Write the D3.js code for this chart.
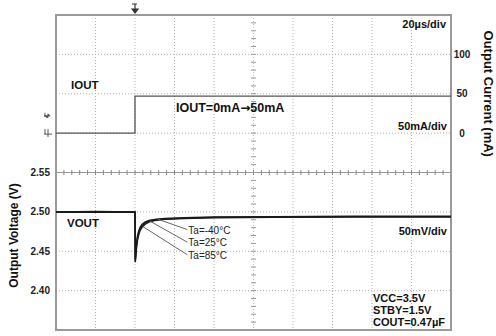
<!DOCTYPE html>
<html><head><meta charset="utf-8">
<script src="https://cdn.jsdelivr.net/npm/d3@7"></script>
<style>
body{margin:0;background:#fff;}
text{font-family:"Liberation Sans",Arial,sans-serif;}
</style></head>
<body><svg id="c" width="496" height="336"></svg>
<script>
// ---- data ----
const timeDomainUs = [-40, 160];           // 20 µs/div, 10 divisions
const voltDomain = [2.35, 2.75];           // 50 mV/div, 8 divisions
const currDomain = [-250, 150];            // 50 mA/div, 8 divisions
const voltTicks = [2.55, 2.50, 2.45, 2.40];
const currTicks = [100, 50, 0];

const ioutTime = [-40, 0, 0, 160];
const ioutMa   = [0, 0, 47, 47];

const voutTime   = [-40, -20, 0, 0.15, 0.4, 0.8, 1.2, 1.8, 2.5, 3.5, 5, 7, 10, 15, 25, 40, 70, 110, 160];
const voutTaM40  = [2.500, 2.5005, 2.500, 2.440, 2.449, 2.461, 2.469, 2.475, 2.480, 2.484, 2.487, 2.489, 2.4905, 2.4915, 2.4925, 2.4935, 2.494, 2.4945, 2.4945];
const voutTa25   = [2.500, 2.500, 2.500, 2.437, 2.446, 2.458, 2.466, 2.473, 2.478, 2.482, 2.486, 2.488, 2.490, 2.491, 2.492, 2.493, 2.4935, 2.494, 2.494];
const voutTa85   = [2.4995, 2.4995, 2.4995, 2.436, 2.444, 2.455, 2.463, 2.470, 2.476, 2.480, 2.484, 2.487, 2.489, 2.4905, 2.4915, 2.4925, 2.493, 2.4935, 2.4935];

const taLabels = ["Ta=-40°C", "Ta=25°C", "Ta=85°C"];
const leaderStartT = [11.5, 7.5, 4];
const leaderEndV = [2.4775, 2.4615, 2.4455];
const labelT = 26.5;

// ---- layout ----
const L = 56, R = 451, T = 15, B = 330;
const svg = d3.select("#c");
const x = d3.scaleLinear().domain(timeDomainUs).range([L, R]);
const yV = d3.scaleLinear().domain(voltDomain).range([B, T]);
const yI = d3.scaleLinear().domain(currDomain).range([B, T]);

// grid
const g = svg.append("g");
const xDivs = d3.range(timeDomainUs[0] + 20, timeDomainUs[1], 20);
const yDivs = d3.range(voltDomain[0] + 0.05, voltDomain[1] - 0.001, 0.05);
g.selectAll(".gx").data(xDivs).join("line")
  .attr("x1", d => x(d)).attr("x2", d => x(d)).attr("y1", T).attr("y2", B)
  .attr("stroke", "#b0b0b0").attr("stroke-width", 1).attr("stroke-dasharray", "1,2");
g.selectAll(".gy").data(yDivs).join("line")
  .attr("x1", L).attr("x2", R).attr("y1", d => yV(d)).attr("y2", d => yV(d))
  .attr("stroke", "#b0b0b0").attr("stroke-width", 1).attr("stroke-dasharray", "1,2");

// center axes with minor ticks
const cx = x(60), cy = yV(2.55);
g.append("line").attr("x1", L).attr("x2", R).attr("y1", cy).attr("y2", cy).attr("stroke", "#999").attr("stroke-width", 1);
g.append("line").attr("x1", cx).attr("x2", cx).attr("y1", T).attr("y2", B).attr("stroke", "#bbb").attr("stroke-width", 1).attr("stroke-dasharray", "1,2");
g.selectAll(".mtx").data(d3.range(timeDomainUs[0], timeDomainUs[1] + 0.01, 4)).join("line")
  .attr("x1", d => x(d)).attr("x2", d => x(d)).attr("y1", cy - 2.5).attr("y2", cy + 2.5)
  .attr("stroke", "#888").attr("stroke-width", 1);
g.selectAll(".mty").data(d3.range(voltDomain[0], voltDomain[1] + 0.001, 0.01)).join("line")
  .attr("x1", cx - 2.5).attr("x2", cx + 2.5).attr("y1", d => yV(d)).attr("y2", d => yV(d))
  .attr("stroke", "#999").attr("stroke-width", 1);

// frame
svg.append("rect").attr("x", L).attr("y", T).attr("width", R - L).attr("height", B - T)
  .attr("fill", "none").attr("stroke", "#9a9a9a").attr("stroke-width", 2);

// current trace
const lineI = d3.line().x((d, i) => x(ioutTime[i])).y(d => yI(d));
svg.append("path").datum(ioutMa).attr("d", lineI).attr("fill", "none").attr("stroke", "#555").attr("stroke-width", 1.3);

// voltage traces
const lineV = d3.line().x((d, i) => x(voutTime[i])).y(d => yV(d));
[voutTa85, voutTa25, voutTaM40].forEach(s => {
  svg.append("path").datum(s).attr("d", lineV).attr("fill", "none").attr("stroke", "#1a1a1a").attr("stroke-width", 1.4);
});

// leaders & Ta labels
taLabels.forEach((lab, i) => {
  const st = leaderStartT[i];
  const idx = d3.bisectLeft(voutTime, st);
  const t0 = voutTime[idx - 1], t1 = voutTime[idx];
  const s = [voutTaM40, voutTa25, voutTa85][i];
  const v = s[idx - 1] + (s[idx] - s[idx - 1]) * (st - t0) / (t1 - t0);
  svg.append("line").attr("x1", x(st)).attr("y1", yV(v)).attr("x2", x(labelT)).attr("y2", yV(leaderEndV[i]))
    .attr("stroke", "#666").attr("stroke-width", 1);
  svg.append("text").attr("x", x(labelT) + 1).attr("y", yV(leaderEndV[i]) + 4)
    .attr("font-size", 10).attr("fill", "#222").text(lab);
});

// tick labels
svg.selectAll(".vt").data(voltTicks).join("text")
  .attr("x", 50).attr("y", d => yV(d) + 3.5).attr("text-anchor", "end")
  .attr("font-size", 10).attr("font-weight", "bold").attr("fill", "#222").text(d => d.toFixed(2));
svg.selectAll(".it").data(currTicks).join("text")
  .attr("x", 462).attr("y", d => yI(d) + 3.5).attr("text-anchor", "middle")
  .attr("font-size", 10).attr("font-weight", "bold").attr("fill", "#222").text(d => d);

// axis titles
svg.append("text").attr("transform", `translate(18,${yV(2.47)}) rotate(-90)`).attr("text-anchor", "middle")
  .attr("font-size", 12).attr("font-weight", "bold").attr("fill", "#111").text("Output Voltage (V)");
svg.append("text").attr("transform", `translate(484,${yI(50)}) rotate(90)`).attr("text-anchor", "middle")
  .attr("font-size", 13).attr("font-weight", "bold").attr("fill", "#111").text("Output Current (mA)");

// in-plot labels
function lab(t, xx, yy, size, anchor, weight) {
  return svg.append("text").attr("x", xx).attr("y", yy).attr("font-size", size).attr("font-weight", weight || "bold")
    .attr("text-anchor", anchor || "start").attr("fill", "#111").text(t);
}
lab("20µs/div", 446, 28, 11, "end");
lab("50mA/div", 447, 130, 11, "end");
lab("50mV/div", 447, 235, 11, "end");
lab("IOUT", 71, 89, 11.5);
lab("VOUT", 67, 227, 11.5);
const big = svg.append("text").attr("x", 176).attr("y", 112).attr("font-size", 12.5).attr("font-weight", "bold").attr("fill", "#111");
big.append("tspan").text("IOUT=0mA");
big.append("tspan").attr("font-family", "DejaVu Sans").attr("font-size", 12).text("→");
big.append("tspan").text("50mA");
lab("VCC=3.5V", 373, 302, 11, "start");
lab("STBY=1.5V", 373, 314, 11, "start");
lab("COUT=0.47µF", 373, 326, 11, "start");

// trigger / channel markers
const tx = x(0);
svg.append("path").attr("d", `M${tx-3},4 h5 M${tx},4 v5 M${tx-3},9 l3,4 l3,-4 z`).attr("stroke", "#333").attr("fill", "#333").attr("stroke-width", 1.2);
const my1 = yI(22);
svg.append("path").attr("d", `M44,${my1} h6 l-2,-2 v4 z M45,${my1-3} v3`).attr("stroke", "#555").attr("fill", "#555").attr("stroke-width", 1);
const my0 = yI(0);
svg.append("path").attr("d", `M45,${my0-4} v5 M48,${my0-4} v8 M44,${my0+1} h8`).attr("stroke", "#555").attr("fill", "none").attr("stroke-width", 1);
</script></body></html>
